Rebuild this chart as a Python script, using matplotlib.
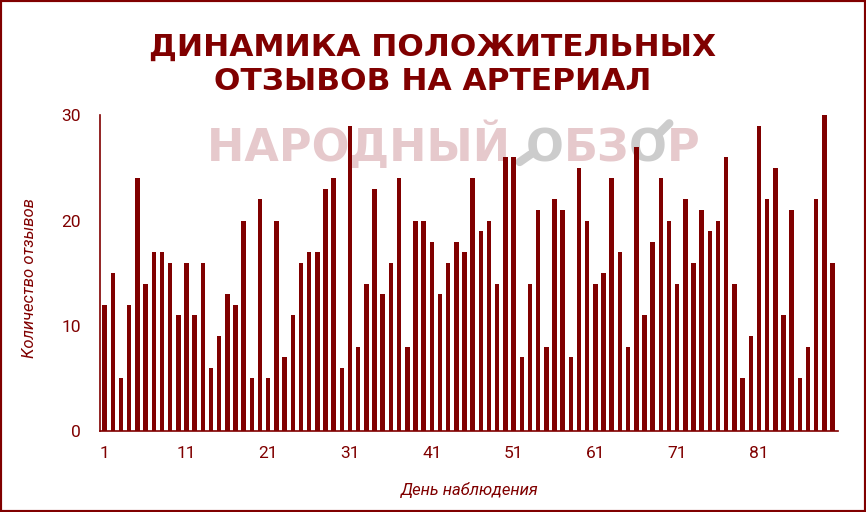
import numpy as np
import matplotlib.pyplot as plt
from matplotlib.patches import Rectangle
from matplotlib.transforms import IdentityTransform

# Дни наблюдения и количество положительных отзывов
days = np.arange(1, 91)
reviews = [12, 15, 5, 12, 24, 14, 17, 17, 16, 11,
           16, 11, 16, 6, 9, 13, 12, 20, 5, 22,
           5, 20, 7, 11, 16, 17, 17, 23, 24, 6,
           29, 8, 14, 23, 13, 16, 24, 8, 20, 20,
           18, 13, 16, 18, 17, 24, 19, 20, 14, 26,
           26, 7, 14, 21, 8, 22, 21, 7, 25, 20,
           14, 15, 24, 17, 8, 27, 11, 18, 24, 20,
           14, 22, 16, 21, 19, 20, 26, 14, 5, 9,
           29, 22, 25, 11, 21, 5, 8, 22, 30, 16]
xticks = [1, 11, 21, 31, 41, 51, 61, 71, 81]
yticks = [0, 10, 20, 30]

RED = '#800000'
PINK = '#e6c9cc'
GREY = '#cccccc'
LABELS = ['Roboto', 'DejaVu Sans']

fig = plt.figure(figsize=(8.66, 5.12), dpi=100)
ax = fig.add_axes([0.1155, 0.158, 0.8522, 0.617])
ax.patch.set_visible(False)

ax.bar(days, reviews, width=0.55, color=RED, zorder=3)

ax.set_xlim(0.43, 90.67)
ax.set_ylim(0, 30)
ax.set_xticks(xticks)
ax.set_yticks(yticks)
ax.tick_params(axis='x', length=0, pad=11, labelsize=12.5, labelcolor=RED)
ax.tick_params(axis='y', length=0, pad=14, labelsize=12.5, labelcolor=RED)
for lbl in ax.get_xticklabels() + ax.get_yticklabels():
    lbl.set_family(LABELS)

for side in ['top', 'right']:
    ax.spines[side].set_visible(False)
for side in ['left', 'bottom']:
    ax.spines[side].set_color(RED)
    ax.spines[side].set_linewidth(1.2)

ax.set_xlabel('День наблюдения', fontsize=12, style='italic', color=RED,
              family=LABELS)
ax.set_ylabel('Количество отзывов', fontsize=12, style='italic', color=RED,
              family=LABELS)
ax.xaxis.set_label_coords(0.501, -0.16)
ax.yaxis.set_label_coords(-0.085, 0.484)

fig.text(0.5, 0.907, 'ДИНАМИКА ПОЛОЖИТЕЛЬНЫХ', ha='center', va='center',
         fontsize=22.5, weight='bold', color=RED, family='DejaVu Sans')
fig.text(0.5, 0.84, 'ОТЗЫВОВ НА АРТЕРИАЛ', ha='center', va='center',
         fontsize=22.5, weight='bold', color=RED, family='DejaVu Sans')

# водяной знак: текст кусками, буквы "О" в ОБЗОР серые с ручкой лупы
wm_size = 32
em = wm_size * 100 / 72
pieces = [('НАРОДНЫЙ ', PINK), ('О', GREY), ('БЗ', PINK), ('О', GREY), ('Р', PINK)]
fig.canvas.draw()
renderer = fig.canvas.get_renderer()
x_px = 207
base_px = 512 - 161
o_boxes = []
for txt, col in pieces:
    t = ax.text(x_px, base_px, txt, ha='left', va='baseline',
                fontsize=wm_size, weight='bold', color=col, family='DejaVu Sans',
                transform=IdentityTransform(), zorder=1)
    bb = t.get_window_extent(renderer)
    if txt == 'О':
        o_boxes.append(bb)
    x_px = bb.x1
for i, bb in enumerate(o_boxes):
    cx = (bb.x0 + bb.x1) / 2
    cy = base_px + 0.365 * em
    r = 0.4 * em
    if i == 0:
        dx, dy = -0.82, -0.57
    else:
        dx, dy = 0.71, 0.71
    ax.add_line(plt.Line2D([cx + dx * r * 0.95, cx + dx * r * 1.7],
                           [cy + dy * r * 0.95, cy + dy * r * 1.7],
                           transform=IdentityTransform(), color=GREY, lw=6,
                           solid_capstyle='round', zorder=1, clip_on=False))

fig.add_artist(Rectangle((0, 0), 1, 1, transform=fig.transFigure, fill=False,
                         edgecolor=RED, linewidth=3))

fig.savefig('out.png', dpi=100)
